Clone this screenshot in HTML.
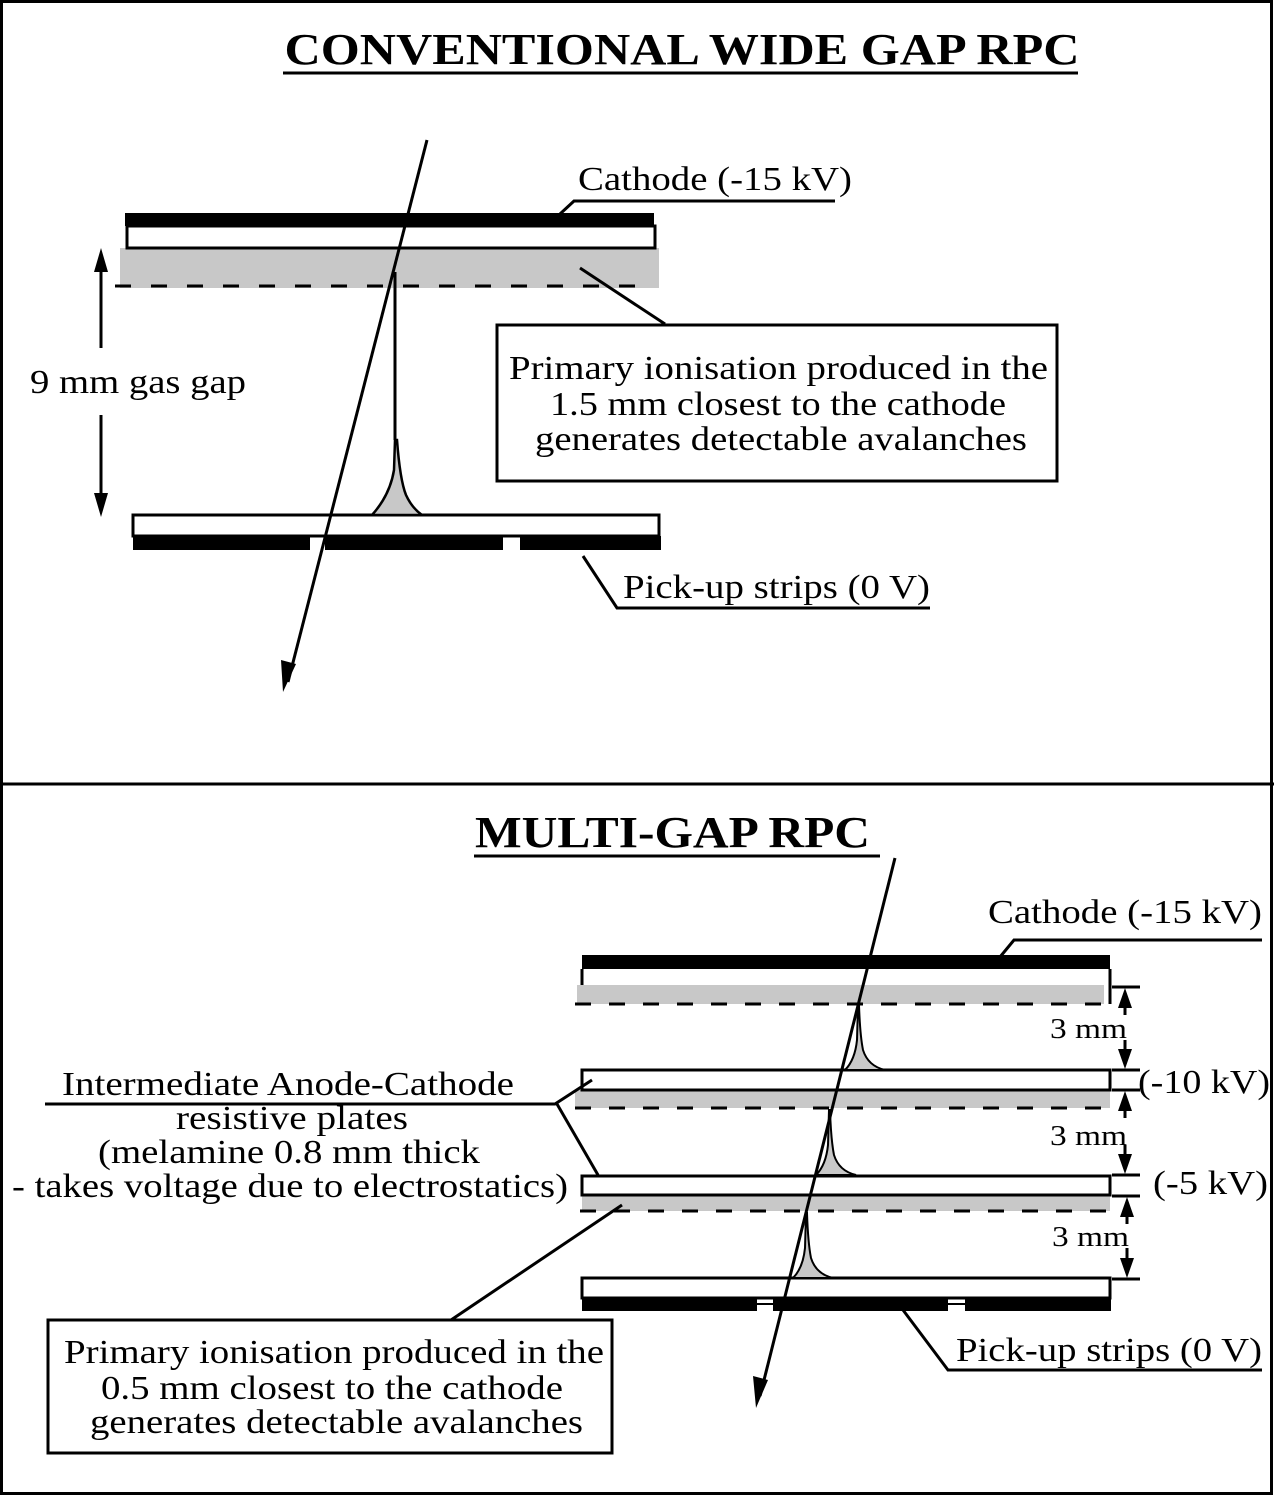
<!DOCTYPE html>
<html><head><meta charset="utf-8"><style>html,body{margin:0;padding:0;background:#fff}svg{display:block}text{font-family:"Liberation Serif",serif;fill:#000}</style></head>
<body>
<svg width="1274" height="1496" viewBox="0 0 1274 1496" xmlns="http://www.w3.org/2000/svg">
<rect x="1.5" y="1.5" width="1270" height="1492" fill="none" stroke="#000" stroke-width="3"/>
<line x1="0" y1="784" x2="1274" y2="784" stroke="#000" stroke-width="3"/>

<!-- TOP -->
<text x="682" y="64" font-size="44" font-weight="bold" text-anchor="middle" textLength="795" lengthAdjust="spacingAndGlyphs">CONVENTIONAL WIDE GAP RPC</text>
<line x1="283" y1="73" x2="1078" y2="73" stroke="#000" stroke-width="3"/>

<rect x="120" y="248" width="539" height="40" fill="#c8c8c8"/>
<rect x="125" y="213" width="529" height="13" fill="#000"/>
<rect x="127" y="226" width="528" height="22" fill="#fff" stroke="#000" stroke-width="3"/>
<line x1="115" y1="286" x2="650" y2="286" stroke="#000" stroke-width="3" stroke-dasharray="16,20"/>

<rect x="133" y="515" width="526" height="21" fill="#fff" stroke="#000" stroke-width="3"/>
<rect x="133" y="536" width="177" height="14" fill="#000"/>
<rect x="325" y="536" width="178" height="14" fill="#000"/>
<rect x="520" y="536" width="141" height="14" fill="#000"/>

<line x1="395" y1="272" x2="395" y2="440" stroke="#000" stroke-width="3"/>
<path d="M395,440 L394,470 Q390,495 372,515 L422,515 Q412,508 406,495 Q400,480 397,440 Z" fill="#c8c8c8" stroke="#000" stroke-width="2.5"/>
<line x1="427" y1="140" x2="288" y2="682" stroke="#000" stroke-width="3"/>
<path d="M283,692 L281,660 L296,664 Z" fill="#000"/>

<line x1="101" y1="268" x2="101" y2="348" stroke="#000" stroke-width="3"/>
<path d="M101,248 L94,272 L108,272 Z" fill="#000"/>
<line x1="101" y1="415" x2="101" y2="495" stroke="#000" stroke-width="3"/>
<path d="M101,517 L94,493 L108,493 Z" fill="#000"/>
<text x="30" y="393" font-size="34" textLength="216" lengthAdjust="spacingAndGlyphs">9 mm gas gap</text>

<text x="578" y="190" font-size="34" textLength="274" lengthAdjust="spacingAndGlyphs">Cathode (-15 kV)</text>
<polyline points="560,214 574,201 835,201" fill="none" stroke="#000" stroke-width="3"/>
<line x1="580" y1="268" x2="665" y2="324" stroke="#000" stroke-width="3"/>
<rect x="497" y="325" width="560" height="156" fill="#fff" stroke="#000" stroke-width="3"/>
<text x="509" y="379" font-size="34" textLength="539" lengthAdjust="spacingAndGlyphs">Primary ionisation produced in the</text>
<text x="550" y="415" font-size="34" textLength="456" lengthAdjust="spacingAndGlyphs">1.5 mm closest to the cathode</text>
<text x="535" y="450" font-size="34" textLength="492" lengthAdjust="spacingAndGlyphs">generates detectable avalanches</text>

<polyline points="583,556 617,608 930,608" fill="none" stroke="#000" stroke-width="3"/>
<text x="623" y="598" font-size="34" textLength="307" lengthAdjust="spacingAndGlyphs">Pick-up strips (0 V)</text>

<!-- BOTTOM -->
<text x="475" y="847" font-size="44" font-weight="bold" textLength="395" lengthAdjust="spacingAndGlyphs">MULTI-GAP RPC</text>
<line x1="474" y1="856" x2="880" y2="856" stroke="#000" stroke-width="3"/>

<text x="988" y="923" font-size="34" textLength="274" lengthAdjust="spacingAndGlyphs">Cathode (-15 kV)</text>
<polyline points="1000,957 1014,940 1262,940" fill="none" stroke="#000" stroke-width="3"/>

<rect x="577" y="985" width="527" height="19" fill="#c8c8c8"/>
<rect x="582" y="955" width="528" height="14" fill="#000"/>
<path d="M582,969 L582,985 M1110,969 L1110,1004" stroke="#000" stroke-width="3"/>
<line x1="575" y1="1004" x2="1108" y2="1004" stroke="#000" stroke-width="3" stroke-dasharray="16,18"/>
<rect x="575" y="1090" width="535" height="18" fill="#c8c8c8"/>
<rect x="582" y="1070" width="528" height="20" fill="#fff" stroke="#000" stroke-width="3"/>
<line x1="575" y1="1108" x2="1110" y2="1108" stroke="#000" stroke-width="3" stroke-dasharray="16,18"/>
<rect x="582" y="1196" width="528" height="15" fill="#c8c8c8"/>
<rect x="582" y="1176" width="528" height="19" fill="#fff" stroke="#000" stroke-width="3"/>
<line x1="580" y1="1211" x2="1110" y2="1211" stroke="#000" stroke-width="3" stroke-dasharray="16,18"/>
<rect x="582" y="1278" width="528" height="20" fill="#fff" stroke="#000" stroke-width="3"/>
<rect x="582" y="1298" width="175" height="13" fill="#000"/>
<rect x="773" y="1298" width="175" height="13" fill="#000"/>
<rect x="965" y="1298" width="146" height="13" fill="#000"/>
<line x1="757" y1="1304" x2="773" y2="1304" stroke="#000" stroke-width="2"/>
<line x1="948" y1="1304" x2="965" y2="1304" stroke="#000" stroke-width="2"/>

<path d="M858,1005 L857,1040 Q855,1060 845,1070 L885,1070 Q868,1066 863,1050 Q860,1035 859,1005 Z" fill="#c8c8c8" stroke="#000" stroke-width="2"/>
<path d="M829,1110 L828,1145 Q826,1165 816,1175 L856,1175 Q839,1171 834,1155 Q831,1140 830,1110 Z" fill="#c8c8c8" stroke="#000" stroke-width="2"/>
<path d="M806,1213 L805,1248 Q803,1268 793,1278 L833,1278 Q816,1274 811,1258 Q808,1243 807,1213 Z" fill="#c8c8c8" stroke="#000" stroke-width="2"/>

<line x1="895" y1="858" x2="760" y2="1396" stroke="#000" stroke-width="3"/>
<path d="M756,1408 L753,1376 L768,1380 Z" fill="#000"/>

<g stroke="#000" stroke-width="3">
<line x1="1112" y1="987" x2="1140" y2="987"/><line x1="1112" y1="1070" x2="1140" y2="1070"/>
<line x1="1112" y1="1090" x2="1140" y2="1090"/><line x1="1112" y1="1175" x2="1140" y2="1175"/>
<line x1="1112" y1="1196" x2="1140" y2="1196"/><line x1="1112" y1="1279" x2="1140" y2="1279"/>
<line x1="1125" y1="1005" x2="1125" y2="1015"/><line x1="1125" y1="1040" x2="1125" y2="1052"/>
<line x1="1125" y1="1108" x2="1125" y2="1118"/><line x1="1125" y1="1145" x2="1125" y2="1157"/>
<line x1="1127" y1="1214" x2="1127" y2="1224"/><line x1="1127" y1="1248" x2="1127" y2="1260"/>
</g>
<g fill="#000">
<path d="M1125,988 L1118,1008 L1132,1008 Z"/><path d="M1125,1069 L1118,1049 L1132,1049 Z"/>
<path d="M1125,1091 L1118,1111 L1132,1111 Z"/><path d="M1125,1174 L1118,1154 L1132,1154 Z"/>
<path d="M1127,1197 L1120,1217 L1134,1217 Z"/><path d="M1127,1278 L1120,1258 L1134,1258 Z"/>
</g>
<text x="1050" y="1038" font-size="28" textLength="77" lengthAdjust="spacingAndGlyphs">3 mm</text>
<text x="1050" y="1145" font-size="28" textLength="77" lengthAdjust="spacingAndGlyphs">3 mm</text>
<text x="1052" y="1246" font-size="28" textLength="77" lengthAdjust="spacingAndGlyphs">3 mm</text>
<text x="1138" y="1093" font-size="34" textLength="132" lengthAdjust="spacingAndGlyphs">(-10 kV)</text>
<text x="1153" y="1194" font-size="34" textLength="115" lengthAdjust="spacingAndGlyphs">(-5 kV)</text>

<text x="62" y="1095" font-size="34" textLength="452" lengthAdjust="spacingAndGlyphs">Intermediate Anode-Cathode</text>
<text x="176" y="1129" font-size="34" textLength="232" lengthAdjust="spacingAndGlyphs">resistive plates</text>
<text x="98" y="1163" font-size="34" textLength="382" lengthAdjust="spacingAndGlyphs">(melamine 0.8 mm thick</text>
<text x="12" y="1197" font-size="34" textLength="556" lengthAdjust="spacingAndGlyphs">- takes voltage due to electrostatics)</text>
<polyline points="45,1104 555,1104 592,1080" fill="none" stroke="#000" stroke-width="3"/>
<line x1="557" y1="1104" x2="598" y2="1175" stroke="#000" stroke-width="3"/>
<line x1="451" y1="1320" x2="622" y2="1205" stroke="#000" stroke-width="3"/>
<rect x="48" y="1320" width="564" height="133" fill="#fff" stroke="#000" stroke-width="3"/>
<text x="64" y="1363" font-size="34" textLength="540" lengthAdjust="spacingAndGlyphs">Primary ionisation produced in the</text>
<text x="101" y="1399" font-size="34" textLength="462" lengthAdjust="spacingAndGlyphs">0.5 mm closest to the cathode</text>
<text x="90" y="1433" font-size="34" textLength="493" lengthAdjust="spacingAndGlyphs">generates detectable avalanches</text>

<polyline points="903,1310 948,1370 1262,1370" fill="none" stroke="#000" stroke-width="3"/>
<text x="956" y="1361" font-size="34" textLength="306" lengthAdjust="spacingAndGlyphs">Pick-up strips (0 V)</text>
</svg>
</body></html>
